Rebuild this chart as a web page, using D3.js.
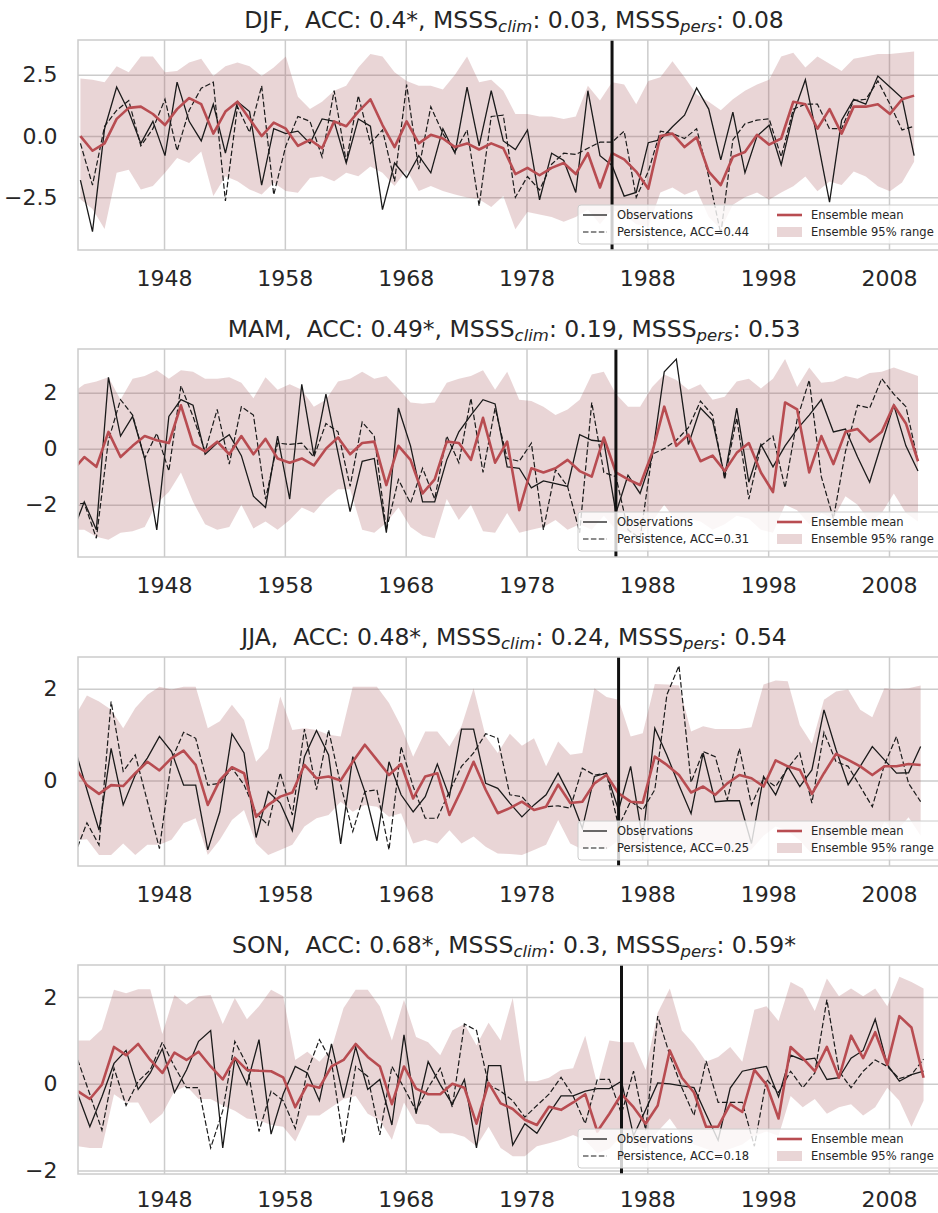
<!DOCTYPE html>
<html>
<head>
<meta charset="utf-8">
<script src="https://cdn.jsdelivr.net/npm/d3@7"></script>
<style>
  body { margin: 0; background: #fff; }
  svg { display: block; font-family: "DejaVu Sans", sans-serif; }
  text { white-space: pre; }
</style>
</head>
<body>
<script>
// DJF values, 1941-2010
const djfObs = [-1.8,-3.9,0.3,2.0,1.0,-0.3,0.6,-0.8,2.2,0.6,
  -0.2,1.3,-0.7,1.4,1.0,-2.0,0.3,0.1,0.2,-0.3,
  0.7,0.6,-1.1,0.7,0.4,-3.0,-1.1,-1.7,-0.8,-1.5,
  0.3,-0.7,2.0,-0.4,1.85,-0.2,-0.55,0.25,-2.6,-0.7,
  -1.0,-2.3,1.85,-0.8,-1.2,-2.45,-2.3,-0.27,-0.15,0.38,
  0.85,1.96,1.1,-0.97,0.98,-1.5,0.0,0.44,-1.17,0.9,
  2.3,-0.15,-2.7,0.65,1.5,1.3,2.45,2.0,1.55,-0.8];
const djfPers = [-0.3,-2.0,0.4,1.05,1.45,-0.4,0.3,1.5,-0.6,1.05,
  1.95,2.2,-2.65,1.2,0.15,2.05,-2.4,-0.4,0.8,0.6,
  -0.85,1.85,-1.05,1.65,-0.3,0.25,-1.85,2.1,-1.35,1.2,
  0.1,-0.65,0.25,-2.85,0.8,0.85,-2.5,-1.65,-2.2,-1.15,
  -0.7,-0.75,-0.5,-0.25,-0.25,0.2,-2.5,-1.45,0.2,0.1,
  -0.1,0.3,-1.65,-4.0,-0.15,0.5,0.65,0.7,-0.85,1.1,
  1.3,1.3,0.3,0.3,1.45,1.5,2.25,1.3,0.25,0.4];
const djfMean = [0.0,-0.6,-0.3,0.7,1.15,1.2,0.9,0.45,1.1,1.55,
  1.3,0.1,1.0,1.4,0.7,0.0,0.55,0.3,-0.4,-0.15,
  -0.5,0.6,0.4,1.0,1.5,0.45,-0.45,0.6,-0.3,0.05,
  -0.1,-0.45,-0.3,-0.55,-0.3,-0.5,-1.55,-1.3,-1.6,-1.3,
  -1.1,-1.55,-0.7,-2.1,-0.7,-0.95,-1.45,-2.15,0.0,0.1,
  -0.45,-0.05,-1.45,-2.0,-0.85,-0.65,0.05,-0.35,-0.1,1.4,
  1.3,0.3,1.1,0.1,1.2,1.2,1.3,0.9,1.5,1.65];
const djfHigh = [2.35,2.3,2.2,2.85,2.6,3.25,3.25,2.6,2.65,3.0,
  3.15,2.45,2.85,3.0,2.85,2.45,2.8,3.25,1.6,1.1,
  1.4,1.85,2.05,2.8,3.35,3.25,2.6,2.25,2.05,2.05,
  1.9,2.5,3.25,2.2,2.3,1.85,0.9,0.9,0.8,0.8,
  0.7,0.8,2.05,1.45,2.2,2.1,1.3,2.25,2.4,3.05,
  2.4,1.7,1.4,1.05,1.5,1.85,2.1,2.3,3.25,3.4,
  2.8,3.25,2.95,2.65,3.15,3.25,3.35,3.35,3.4,3.45];
const djfLow = [-2.58,-2.98,-3.79,-1.5,-1.37,-2.18,-2.04,-1.5,-0.9,-1.1,
  -0.63,-2.45,-1.64,-1.84,-2.18,-2.38,-1.91,-2.24,-2.31,-1.71,
  -1.64,-1.84,-1.5,-1.64,-1.24,-1.5,-2.04,-1.37,-2.24,-2.04,
  -2.24,-2.38,-2.51,-2.58,-2.9,-2.45,-3.8,-3.1,-3.2,-3.3,
  -3.5,-3.3,-3.0,-3.6,-3.0,-3.2,-3.6,-3.7,-2.3,-2.1,
  -2.4,-2.2,-3.3,-3.8,-2.8,-2.5,-2.3,-2.6,-2.3,-2.05,
  -1.65,-2.25,-1.85,-2.0,-1.45,-1.65,-2.05,-2.25,-1.9,-1.05];

// MAM values, 1940-2010
const mamObs = [-3.0,
  -1.9,-2.9,2.55,0.45,1.15,-0.35,-2.9,1.15,1.75,1.55,
  -0.2,0.2,0.5,-0.25,-1.7,-2.1,0.45,-1.8,2.3,-0.25,
  1.95,-0.15,-2.25,-0.45,-0.35,-3.0,1.45,0.1,-1.9,-1.9,
  -0.4,0.6,1.2,1.75,1.6,-0.65,-0.7,-1.4,-1.15,-1.25,
  -1.35,0.5,0.3,0.25,-2.3,-0.95,-1.6,-0.3,2.75,3.2,
  0.15,1.45,1.0,-1.0,1.45,-1.2,0.15,-0.65,0.1,0.7,
  1.2,1.75,0.6,0.7,-0.3,-1.2,0.2,1.55,0.1,-0.8];
const mamPers = [-2.0,
  -1.95,-3.2,0.3,1.75,1.2,-0.35,0.55,-0.8,2.25,1.15,
  -0.1,1.4,-0.55,1.5,1.2,-1.8,0.2,0.15,0.2,-0.3,
  0.9,0.6,-1.35,0.95,0.45,-2.9,-1.1,-1.95,-0.7,-1.8,
  0.45,-0.5,1.8,-0.85,1.45,-0.35,-0.45,0.2,-2.9,-0.75,
  -1.35,-3.0,1.65,-0.85,-1.0,-2.9,-3.2,-0.2,0.0,0.3,
  0.75,1.7,1.2,-1.1,1.1,-1.8,0.1,0.45,-1.4,1.05,
  2.45,-1.0,-2.5,-0.1,1.55,1.45,2.5,1.95,1.5,-0.45];
const mamMean = [-0.8,
  -0.3,-0.65,0.6,-0.3,0.1,0.45,0.3,0.2,1.55,0.15,
  -0.1,0.25,-0.2,0.45,-0.2,0.35,-0.35,-0.5,-0.35,-0.6,
  0.0,0.4,-0.2,0.2,0.25,-1.3,0.1,-0.4,-1.6,-1.1,
  0.25,0.2,-0.4,1.1,-0.5,0.25,-2.2,-0.7,-0.85,-0.7,
  -0.4,-0.8,-1.0,0.4,-0.85,-1.1,-1.3,-0.15,1.5,0.1,
  0.5,-0.45,-0.25,-0.8,-0.15,0.2,-0.85,-1.55,1.65,1.4,
  -0.85,0.45,-0.55,0.6,0.7,0.25,0.6,1.55,0.9,-0.45];
const mamHigh = [2.0,
  2.3,2.4,2.55,1.75,2.5,2.6,2.8,2.5,2.8,2.75,
  2.5,2.5,2.55,2.35,1.8,2.55,2.1,2.3,2.1,1.5,
  1.75,2.4,2.5,2.75,2.5,2.6,2.15,1.65,1.6,1.65,
  2.35,2.5,2.6,2.8,2.1,2.75,1.75,1.7,1.5,1.2,
  1.4,1.75,2.65,2.75,1.95,1.5,1.5,2.2,2.65,2.45,
  2.1,2.3,1.75,1.85,2.4,2.5,2.15,2.5,3.2,2.2,
  2.9,2.35,2.4,2.6,2.5,2.7,2.75,2.9,2.75,2.6];
const mamLow = [-2.9,
  -2.9,-3.15,-3.25,-3.0,-2.95,-2.8,-1.95,-1.55,-0.85,-1.9,
  -2.7,-2.9,-2.8,-2.0,-2.85,-2.6,-2.9,-2.55,-2.1,-2.3,
  -1.8,-1.45,-1.45,-2.9,-3.0,-2.65,-2.1,-2.8,-3.1,-3.2,
  -1.8,-2.55,-2.0,-2.95,-3.0,-2.3,-3.0,-2.9,-2.8,-2.55,
  -2.9,-2.7,-2.9,-2.4,-2.9,-3.0,-3.1,-2.6,-2.0,-2.6,
  -2.5,-2.6,-2.9,-2.7,-2.4,-2.5,-2.9,-3.0,-2.0,-2.2,
  -2.7,-2.3,-2.5,-1.7,-2.0,-2.6,-2.3,-1.6,-2.3,-2.6];

// JJA values, 1940-2010
const jjaObs = [0.7,
  -0.2,-1.08,0.7,-0.53,0.12,0.49,0.96,0.63,-0.1,-0.1,
  -1.51,-0.68,1.02,0.6,-1.24,-0.24,-0.49,-1.09,0.52,1.09,
  0.56,-1.38,0.52,-0.24,-1.31,0.41,-0.31,-0.68,-0.35,0.36,
  -0.35,1.12,1.12,-0.06,-0.17,-0.49,-0.79,-0.53,-0.31,0.16,
  -0.35,-1.04,0.09,0.16,-0.64,0.31,-1.29,1.14,0.55,-0.1,
  -0.72,0.6,-0.46,-0.44,-0.44,-1.37,0.09,-0.31,0.31,-0.13,
  0.23,1.54,0.67,-0.09,0.31,0.74,0.45,0.16,0.17,0.74];
const jjaPers = [-1.6,
  -0.92,-1.4,1.72,0.2,0.56,-0.45,-1.48,0.45,1.05,0.92,
  -0.1,-0.06,0.27,-0.09,-0.71,-0.97,0.17,-0.75,1.12,-0.2,
  1.1,-0.09,-1.11,-0.24,-0.2,-1.51,0.74,-0.13,-0.82,-0.82,
  -0.24,0.31,0.6,1.02,0.92,-0.31,-0.35,-0.64,-0.57,-0.55,
  -0.6,0.27,0.12,0.16,-1.0,-0.45,-0.64,-0.2,1.87,2.5,
  -0.04,0.63,0.52,-0.42,0.7,-0.53,0.05,-0.13,0.27,0.6,
  -0.49,1.05,0.41,0.31,-0.13,-0.57,0.34,0.96,-0.06,-0.46];
const jjaMean = [0.3,
  -0.1,-0.29,-0.1,-0.12,0.16,0.41,0.22,0.49,0.65,0.34,
  -0.53,0.01,0.29,0.16,-0.79,-0.53,-0.35,-0.26,0.34,0.05,
  0.09,0.0,0.41,0.78,0.45,0.12,0.36,-0.39,0.09,0.16,
  -0.75,-0.2,0.41,-0.2,-0.71,-0.6,-0.46,-0.64,-0.57,-0.09,
  -0.49,-0.46,-0.06,0.12,-0.28,-0.46,-0.48,0.52,0.34,0.12,
  -0.26,-0.13,-0.31,-0.06,0.12,0.05,-0.13,0.44,0.31,0.23,
  -0.29,0.16,0.58,0.45,0.31,0.12,0.31,0.31,0.36,0.34];
const jjaHigh = [1.4,
  1.85,1.72,1.54,1.14,1.58,1.87,2.04,1.98,2.04,2.04,
  1.14,1.29,1.65,1.32,0.41,0.7,1.83,1.1,1.14,1.1,
  1.0,0.96,2.04,2.04,2.04,1.69,1.18,0.52,1.07,1.07,
  0.74,1.18,2.01,0.96,0.6,1.02,0.76,0.92,0.31,0.85,
  0.56,0.6,2.01,1.82,1.76,0.96,1.03,2.1,2.09,2.07,
  1.07,1.18,1.12,1.12,1.12,1.16,2.09,2.18,2.16,1.21,
  0.8,1.76,1.94,1.98,1.54,1.38,2.01,1.99,2.01,2.07];
const jjaLow = [-1.3,
  -1.28,-1.62,-1.62,-1.37,-1.62,-1.4,-1.4,-1.29,-0.93,-0.82,
  -1.62,-1.29,-0.86,-0.64,-1.37,-1.62,-1.51,-1.4,-1.0,-0.82,
  -0.75,-0.46,-0.68,-0.53,-0.57,-0.79,-0.71,-1.37,-1.29,-1.37,
  -1.08,-1.37,-1.22,-1.44,-1.59,-1.6,-1.62,-1.51,-1.4,-0.86,
  -1.37,-1.5,-1.4,-1.5,-1.3,-1.5,-1.6,-1.0,-1.1,-1.4,
  -1.6,-1.3,-1.4,-1.5,-1.6,-1.5,-1.2,-1.0,-1.1,-1.3,
  -1.6,-1.2,-1.3,-1.0,-1.2,-1.4,-0.9,-1.1,-0.8,-1.2];

// SON values, 1940-2010
const sonObs = [-0.24,
  -0.99,-0.3,0.47,0.77,-0.13,0.25,0.81,-0.2,0.32,0.98,
  1.23,-1.48,0.59,-0.02,1.02,-1.16,-0.24,0.4,0.25,-0.39,
  0.92,-0.32,0.85,-0.13,0.1,-0.95,1.13,-0.69,0.51,-0.02,
  -0.47,0.1,-1.48,0.42,0.42,-1.41,-0.92,-1.14,-0.69,-0.28,
  -0.28,-0.17,-0.11,-0.11,0.06,-1.2,-0.6,0.02,0.0,-0.05,
  -0.09,-0.7,-1.3,-0.1,0.29,0.35,0.4,-0.3,0.66,0.55,
  0.59,0.1,0.14,0.59,0.77,1.49,0.44,0.06,0.21,0.29];
const sonPers = [0.55,
  -0.24,-1.07,0.36,-0.5,0.06,0.32,0.96,0.4,-0.09,-0.09,
  -1.48,-0.62,0.98,0.44,-1.1,-0.17,-0.39,-1.03,0.29,1.02,
  0.51,-1.37,0.4,0.17,-1.18,0.4,-0.09,-0.62,-0.09,0.36,
  -0.54,1.38,1.23,-0.02,-0.17,-0.39,-0.77,-0.5,-0.24,0.15,
  -0.28,-0.92,0.1,0.1,-0.69,0.29,-1.07,1.56,0.66,-0.09,
  -0.73,0.53,-0.43,-0.43,-0.43,-1.44,0.1,-0.2,0.29,-0.09,
  0.25,1.94,0.29,-0.09,0.29,0.55,0.4,0.12,0.21,0.57];
const sonMean = [-0.17,
  -0.35,-0.02,0.85,0.66,0.92,0.55,0.25,0.72,0.55,0.74,
  0.4,0.1,0.6,0.32,0.3,0.29,0.15,-0.54,-0.02,-0.09,
  0.4,0.55,0.92,0.62,0.4,-0.47,0.4,-0.11,-0.24,-0.24,
  0.0,-0.09,-0.92,0.02,-0.45,-0.58,-0.83,-0.95,-0.53,-0.6,
  -0.43,-0.24,-1.1,-0.69,-0.24,-0.54,-0.92,-0.5,0.77,0.14,
  -0.2,-0.99,-0.99,-0.47,-0.65,0.32,-0.02,-0.8,0.85,0.59,
  0.29,0.85,0.14,1.11,0.59,1.19,0.44,1.56,1.3,0.14];
const sonHigh = [1.0,
  1.0,1.26,2.17,2.09,2.18,2.18,1.15,2.05,1.83,2.02,
  2.05,1.38,1.98,1.49,1.79,2.17,2.02,0.55,0.74,0.51,
  0.81,1.75,2.17,2.17,1.79,1.0,1.94,1.08,0.96,0.66,
  1.23,1.38,0.89,1.41,1.0,1.98,0.06,0.06,0.14,0.32,
  0.36,1.11,-0.02,1.0,0.96,0.96,0.32,1.64,2.2,1.23,
  0.92,0.51,0.62,0.85,0.51,1.71,1.79,1.45,2.35,2.2,
  1.68,2.43,2.02,2.2,2.02,2.2,1.79,2.47,2.35,2.2];
const sonLow = [-1.44,
  -1.48,-1.48,-0.24,-0.43,-0.43,-0.92,-0.69,-0.17,-0.05,-0.35,
  -0.35,-0.5,-0.62,-0.8,-0.84,-0.95,-0.99,-1.33,-0.73,-0.73,
  -0.54,-0.35,-0.28,-0.69,-0.84,-1.29,-0.43,-0.92,-0.95,-1.14,
  -1.14,-1.22,-1.44,-0.99,-1.48,-1.67,-1.67,-1.44,-1.37,-1.29,
  -1.18,-1.3,-1.6,-1.5,-1.2,-1.4,-1.5,-1.1,-0.8,-1.2,
  -1.4,-1.5,-1.6,-1.5,-1.4,-1.2,-1.1,-1.2,-0.28,-0.54,
  -0.35,-0.69,-0.54,-0.47,-0.73,-0.54,-0.09,-0.39,-0.99,-0.39];

const xTickYears = [1948, 1958, 1968, 1978, 1988, 1998, 2008];
const breakYear = 1985;

const seasons = [
  {name: "DJF", first: 1941, off: 0.08, obs: djfObs, pers: djfPers, mean: djfMean, lo: djfLow, hi: djfHigh,
   top: 40, bottom: 250, yDom: [-4.65, 3.92], yTicks: [-2.5, 0, 2.5], fmt: d3.format(".1f"), labPad: 20.4,
   acc: "0.4*", clim: "0.03", mp: "0.08", pAcc: "0.44"},
  {name: "MAM", first: 1940, off: 0.4, obs: mamObs, pers: mamPers, mean: mamMean, lo: mamLow, hi: mamHigh,
   top: 349, bottom: 557, yDom: [-3.87, 3.56], yTicks: [-2, 0, 2], fmt: d3.format("d"), labPad: 20.4,
   acc: "0.49*", clim: "0.19", mp: "0.53", pAcc: "0.31"},
  {name: "JJA", first: 1940, off: 0.62, obs: jjaObs, pers: jjaPers, mean: jjaMean, lo: jjaLow, hi: jjaHigh,
   top: 657, bottom: 866, yDom: [-1.86, 2.69], yTicks: [0, 2], fmt: d3.format("d"), labPad: 20.4,
   acc: "0.48*", clim: "0.24", mp: "0.54", pAcc: "0.25"},
  {name: "SON", first: 1940, off: 0.86, obs: sonObs, pers: sonPers, mean: sonMean, lo: sonLow, hi: sonHigh,
   top: 965, bottom: 1174, yDom: [-2.08, 2.74], yTicks: [-2, 0, 2], fmt: d3.format("d"), labPad: 17,
   acc: "0.68*", clim: "0.3", mp: "0.59*", pAcc: "0.18"}
];

const width = 938, height = 1213;
const left = 78, right = 950;
const gridColor = "#cccccc";
const textColor = "#262626";
const meanColor = "#b84c51";
const bandColor = "#a8585c";
const dash = "5.5,2.4";

const svg = d3.select("body").append("svg")
  .attr("width", width)
  .attr("height", height);

const x = d3.scaleLinear().domain([1940.88, 2013.05]).range([left, right]);

seasons.forEach((s, k) => {
  const y = d3.scaleLinear().domain(s.yDom).range([s.bottom, s.top]);
  const rows = s.obs.map((v, i) => ({
    t: s.first + i + s.off, obs: v, pers: s.pers[i], mean: s.mean[i], lo: s.lo[i], hi: s.hi[i]
  }));

  const g = svg.append("g");

  // grid via axes
  g.append("g")
    .attr("transform", `translate(0,${s.bottom})`)
    .call(d3.axisBottom(x).tickValues(xTickYears).tickSize(-(s.bottom - s.top)).tickFormat(""))
    .call(a => a.select(".domain").remove())
    .selectAll("line").attr("stroke", gridColor).attr("stroke-width", 1.5);
  g.append("g")
    .attr("transform", `translate(${left},0)`)
    .call(d3.axisLeft(y).tickValues(s.yTicks).tickSize(-(right - left)).tickFormat(""))
    .call(a => a.select(".domain").remove())
    .selectAll("line").attr("stroke", gridColor).attr("stroke-width", 1.5);

  const clipId = "clip" + k;
  g.append("clipPath").attr("id", clipId)
    .append("rect").attr("x", left).attr("y", s.top)
    .attr("width", right - left).attr("height", s.bottom - s.top);

  const plot = g.append("g").attr("clip-path", `url(#${clipId})`);

  plot.append("path")
    .datum(rows)
    .attr("fill", bandColor)
    .attr("fill-opacity", 0.25)
    .attr("d", d3.area().x(d => x(d.t)).y0(d => y(d.lo)).y1(d => y(d.hi)));

  plot.append("path")
    .datum(rows)
    .attr("fill", "none")
    .attr("stroke", "#1a1a1a")
    .attr("stroke-width", 1.3)
    .attr("d", d3.line().x(d => x(d.t)).y(d => y(d.obs)));

  plot.append("path")
    .datum(rows)
    .attr("fill", "none")
    .attr("stroke", "#1a1a1a")
    .attr("stroke-width", 1.2)
    .attr("stroke-dasharray", dash)
    .attr("d", d3.line().x(d => x(d.t)).y(d => y(d.pers)));

  plot.append("path")
    .datum(rows)
    .attr("fill", "none")
    .attr("stroke", meanColor)
    .attr("stroke-width", 2.6)
    .attr("stroke-linejoin", "round")
    .attr("d", d3.line().x(d => x(d.t)).y(d => y(d.mean)));

  plot.append("line")
    .attr("x1", x(breakYear + s.off)).attr("x2", x(breakYear + s.off))
    .attr("y1", s.top).attr("y2", s.bottom)
    .attr("stroke", "#111").attr("stroke-width", 3);

  // spines
  g.append("rect")
    .attr("x", left).attr("y", s.top)
    .attr("width", right - left).attr("height", s.bottom - s.top)
    .attr("fill", "none").attr("stroke", gridColor).attr("stroke-width", 1.5);

  // tick labels
  g.append("g")
    .attr("transform", `translate(0,${s.bottom})`)
    .call(d3.axisBottom(x).tickValues(xTickYears).tickSize(0).tickPadding(s.labPad).tickFormat(d3.format("d")))
    .call(a => a.select(".domain").remove())
    .selectAll("text").attr("fill", textColor).attr("font-size", 22).attr("font-family", "DejaVu Sans");
  g.append("g")
    .attr("transform", `translate(${left},0)`)
    .call(d3.axisLeft(y).tickValues(s.yTicks).tickSize(0).tickPadding(20.5).tickFormat(s.fmt))
    .call(a => a.select(".domain").remove())
    .selectAll("text").attr("fill", textColor).attr("font-size", 22).attr("font-family", "DejaVu Sans");

  // title
  const title = g.append("text")
    .attr("x", (left + right) / 2)
    .attr("y", s.top - 12.5)
    .attr("text-anchor", "middle")
    .attr("fill", textColor)
    .attr("font-size", 23.5);
  title.append("tspan").text(`${s.name},  ACC: ${s.acc}, MSSS`);
  title.append("tspan").attr("font-style", "italic").attr("font-size", 16.5).attr("dy", 4).text("clim");
  title.append("tspan").attr("dy", -4).text(`: ${s.clim}, MSSS`);
  title.append("tspan").attr("font-style", "italic").attr("font-size", 16.5).attr("dy", 4).text("pers");
  title.append("tspan").attr("dy", -4).text(`: ${s.mp}`);

  // legend
  const lg = g.append("g").attr("transform", `translate(578,${s.bottom - 45})`);
  lg.append("rect")
    .attr("width", 400).attr("height", 39).attr("rx", 3)
    .attr("fill", "#fff").attr("fill-opacity", 0.8)
    .attr("stroke", gridColor).attr("stroke-width", 1);
  const r1 = 10, r2 = 27;
  lg.append("line").attr("x1", 5).attr("x2", 29).attr("y1", r1).attr("y2", r1)
    .attr("stroke", "#1a1a1a").attr("stroke-width", 1.3);
  lg.append("line").attr("x1", 5).attr("x2", 29).attr("y1", r2).attr("y2", r2)
    .attr("stroke", "#1a1a1a").attr("stroke-width", 1.2).attr("stroke-dasharray", dash);
  lg.append("line").attr("x1", 199).attr("x2", 224).attr("y1", r1).attr("y2", r1)
    .attr("stroke", meanColor).attr("stroke-width", 2.6);
  lg.append("rect").attr("x", 199).attr("y", r2 - 5).attr("width", 25).attr("height", 10)
    .attr("fill", bandColor).attr("fill-opacity", 0.25);
  const labels = [
    [39, r1, "Observations"],
    [39, r2, `Persistence, ACC=${s.pAcc}`],
    [233, r1, "Ensemble mean"],
    [233, r2, "Ensemble 95% range"]
  ];
  lg.selectAll("text.lab").data(labels).join("text")
    .attr("class", "lab")
    .attr("x", d => d[0]).attr("y", d => d[1])
    .attr("dy", "0.35em")
    .attr("fill", textColor)
    .attr("font-size", 11.5)
    .text(d => d[2]);
});
</script>
</body>
</html>
